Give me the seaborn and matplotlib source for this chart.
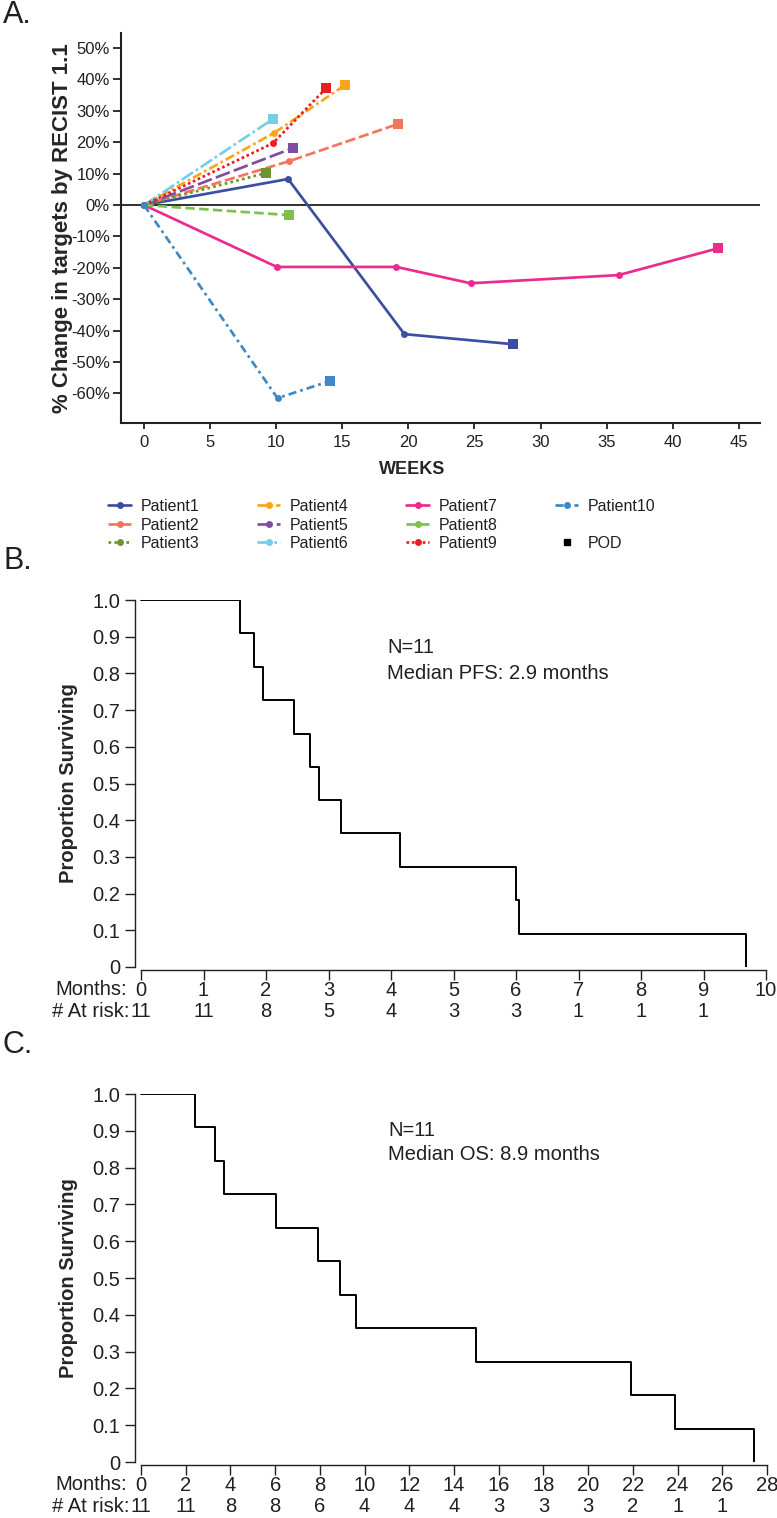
import numpy as np
import pandas as pd
import seaborn as sns
import matplotlib
matplotlib.use('Agg')
import matplotlib.pyplot as plt
from matplotlib.lines import Line2D
import matplotlib.transforms as mtransforms

# ---- panel A data : % change in target lesions (RECIST 1.1) ----
patients = ['Patient1', 'Patient2', 'Patient3', 'Patient4', 'Patient5',
            'Patient6', 'Patient7', 'Patient8', 'Patient9', 'Patient10']
weeks = [
    [0, 10.9, 19.7, 27.9],
    [0, 11.0, 19.2],
    [0, 9.2],
    [0, 9.85, 15.2],
    [0, 11.3],
    [0, 9.75],
    [0, 10.05, 19.1, 24.7, 35.9, 43.4],
    [0, 11.0],
    [0, 9.75, 13.8],
    [0, 10.1, 14.1],
]
pct_change = [
    [0, 8.3, -41.1, -44.3],
    [0, 14.0, 25.8],
    [0, 10.2],
    [0, 23.0, 38.2],
    [0, 18.2],
    [0, 27.4],
    [0, -19.7, -19.7, -24.9, -22.3, -13.8],
    [0, -3.2],
    [0, 19.7, 37.3],
    [0, -61.5, -56.0],
]
colors = ['#3b4fa2', '#f3765a', '#6c9430', '#f9a51c', '#7e4ea1',
          '#72cfe6', '#ec2b8d', '#7cc24b', '#ed1c24', '#3d88c5']
styles = ['-', (0, (3.8, 1.4)), (0, (1, 1.2)), (0, (3.5, 1.2, 1, 1.2)), (0, (5.5, 1.6)),
          (0, (5, 1.2, 1, 1.2)), '-', (0, (3.5, 1.6)), (0, (1, 1)), (0, (3, 1.5, 1, 1.5))]

# ---- panel B data : PFS ----
pfs_time = [0, 1.58, 1.8, 1.95, 2.45, 2.7, 2.85, 3.2, 4.15, 6.0, 6.04, 9.68]
pfs_surv = [1.0, 0.909, 0.818, 0.727, 0.636, 0.545, 0.455, 0.364, 0.273, 0.182, 0.091, 0.0]
pfs_months = [0, 1, 2, 3, 4, 5, 6, 7, 8, 9, 10]
pfs_risk = [11, 11, 8, 5, 4, 3, 3, 1, 1, 1]

# ---- panel C data : OS ----
os_time = [0, 2.4, 3.3, 3.7, 6.05, 7.9, 8.9, 9.6, 15.0, 21.9, 23.9, 27.4]
os_surv = [1.0, 0.909, 0.818, 0.727, 0.636, 0.545, 0.455, 0.364, 0.273, 0.182, 0.091, 0.0]
os_months = [0, 2, 4, 6, 8, 10, 12, 14, 16, 18, 20, 22, 24, 26, 28]
os_risk = [11, 11, 8, 8, 6, 4, 4, 4, 3, 3, 3, 2, 1, 1]

W, H = 777, 1518
TXT = '#231f20'

sns.set_style('ticks')
plt.rcParams['font.family'] = ['Liberation Sans', 'DejaVu Sans']
plt.rcParams['axes.unicode_minus'] = False
plt.rcParams['text.color'] = TXT
plt.rcParams['xtick.color'] = TXT
plt.rcParams['ytick.color'] = TXT

fig = plt.figure(figsize=(W / 100, H / 100), dpi=100)


def px_axes(l, t, r, b):
    return fig.add_axes([l / W, 1 - b / H, (r - l) / W, (b - t) / H])


# ================= A =================
axA = px_axes(121, 33, 760, 423)
axA.axhline(0, color=TXT, lw=1.3, zorder=1)
for name, wk, pc, col, ls in zip(patients, weeks, pct_change, colors, styles):
    sns.lineplot(x=wk, y=pc, color=col, linestyle=ls, lw=1.95, marker='o', markersize=5,
                 markeredgewidth=0, label=name, estimator=None, ax=axA, zorder=3)
    sns.scatterplot(x=[wk[-1]], y=[pc[-1]], color=col, marker='s', s=45, linewidth=0,
                    ax=axA, zorder=4)

axA.set_xlim(-1.74, 46.6)
axA.set_ylim(-69.4, 54.8)
yt = list(range(-60, 51, 10))
axA.set_yticks(yt)
axA.set_yticklabels([f'{v}%' for v in yt])
axA.set_xticks(range(0, 46, 5))
sns.despine(ax=axA)
for s in ['left', 'bottom']:
    axA.spines[s].set_linewidth(1.5)
    axA.spines[s].set_color(TXT)
axA.tick_params(axis='y', length=5.8, width=1.3, pad=2.2, labelsize=12)
axA.tick_params(axis='x', length=4.3, width=1.3, pad=4.3, labelsize=12)
axA.set_ylabel('% Change in targets by RECIST 1.1', fontsize=16, fontweight='bold', va='center')
axA.yaxis.set_label_coords((63 - 121) / 639, 0.5)
axA.set_xlabel('WEEKS', fontsize=13, fontweight='bold', va='center')
axA.xaxis.set_label_coords((412 - 121) / 639, (423 - 469) / 390)

handles, labels = axA.get_legend_handles_labels()
handles = handles[:10] + [Line2D([], [], ls='', marker=None),
                          Line2D([], [], ls='', marker='s', color='black', markersize=5)]
labels = labels[:10] + [' ', 'POD']
axA.legend(handles, labels, ncol=4, loc='upper left', bbox_to_anchor=(108 / W, 1 - 499 / H),
           bbox_transform=fig.transFigure, frameon=False, fontsize=11.5, handlelength=1.45,
           handletextpad=0.6, columnspacing=3.6, labelspacing=0.22, borderpad=0, borderaxespad=0)


# ================= B / C =================
def km_panel(ax, t, s, months, risk, xmax, left, txt_x, txt_y, median_txt):
    sns.lineplot(x=t, y=s, drawstyle='steps-post', color='black', lw=1.4, estimator=None,
                 ax=ax)
    ax.set_xlim(left, xmax)
    ax.set_ylim(0, 1)
    sns.despine(ax=ax)
    for sp in ['left', 'bottom']:
        ax.spines[sp].set_linewidth(1.0)
        ax.spines[sp].set_color(TXT)
    ax.spines['bottom'].set_position(('outward', 2))
    ax.spines['bottom'].set_bounds(0, xmax)
    ax.set_xticks(months)
    ax.set_xticklabels([str(m) for m in months])
    yt = [i / 10 for i in range(11)]
    ax.set_yticks(yt)
    ax.set_yticklabels(['0'] + [f'{v:.1f}' for v in yt[1:]])
    ax.tick_params(axis='x', length=7.2, width=1.0, pad=1, labelsize=14.5)
    ax.tick_params(axis='y', length=7.2, width=1.0, pad=3.6, labelsize=14.5)
    ax.set_xlabel('')
    ax.set_ylabel('Proportion Surviving', fontsize=14.5, fontweight='bold', va='center')
    bb = ax.get_position()
    wpx, hpx = bb.width * W, bb.height * H
    ax.yaxis.set_label_coords((68 - 135) / wpx, 0.5)
    top_px = 2 + (7.2 + 1) * 100 / 72
    y_months = -top_px / hpx
    y_risk = -(top_px + 22) / hpx
    ax.text((127 - 135) / wpx, y_months, 'Months:', transform=ax.transAxes, ha='right',
            va='top', fontsize=14.5)
    ax.text((130 - 135) / wpx, y_risk, '# At risk:', transform=ax.transAxes, ha='right',
            va='top', fontsize=14.5)
    blend = mtransforms.blended_transform_factory(ax.transData, ax.transAxes)
    for m, n in zip(months, risk):
        ax.text(m, y_risk, str(n), transform=blend, ha='center', va='top', fontsize=14.5)
    ax.text(txt_x, txt_y[0], 'N=11', ha='left', va='center', fontsize=14.5)
    ax.text(txt_x, txt_y[1], median_txt, ha='left', va='center', fontsize=14.5)


axB = px_axes(135, 600, 766, 967)
km_panel(axB, pfs_time, pfs_surv, pfs_months, pfs_risk, 10, -0.096, 3.94, (0.87, 0.80),
         'Median PFS: 2.9 months')

axC = px_axes(135, 1094, 767, 1462)
km_panel(axC, os_time, os_surv, os_months, os_risk, 28, -0.268, 11.05, (0.90, 0.835),
         'Median OS: 8.9 months')

# panel letters
for letter, ypx in [('A.', 15), ('B.', 561), ('C.', 1045)]:
    fig.text(3 / W, 1 - ypx / H, letter, fontsize=22, ha='left', va='center')

fig.savefig('out.png', dpi=100)
